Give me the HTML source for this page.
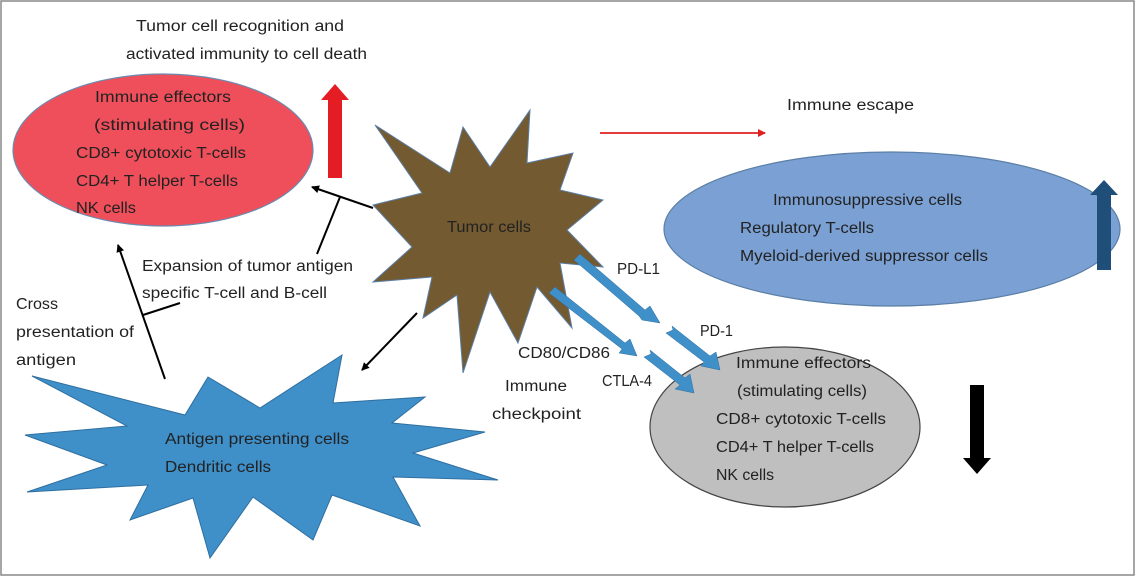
<!DOCTYPE html>
<html><head><meta charset="utf-8"><style>
html,body{margin:0;padding:0;background:#fff;}
svg{display:block;font-family:"Liberation Sans",sans-serif;}
text{font-size:15.5px;fill:#222;}
</style></head><body>
<svg width="1135" height="577" viewBox="0 0 1135 577">
<defs>
<marker id="ah" markerWidth="8" markerHeight="8" refX="7" refY="4" orient="auto" markerUnits="userSpaceOnUse"><path d="M0,0 L8,4 L0,8 z" fill="#000"/></marker>
<marker id="ahr" markerWidth="8" markerHeight="8" refX="7" refY="4" orient="auto" markerUnits="userSpaceOnUse"><path d="M0,0 L8,4 L0,8 z" fill="#e02020"/></marker>
</defs>
<rect x="1" y="1" width="1133" height="574" fill="#fff" stroke="#888" stroke-width="1.5"/>

<text x="136" y="31" textLength="208" lengthAdjust="spacingAndGlyphs">Tumor cell recognition and</text>
<text x="126" y="59" textLength="241" lengthAdjust="spacingAndGlyphs">activated immunity to cell death</text>

<ellipse cx="163" cy="150" rx="150" ry="76" fill="#ef4f5a" stroke="#6a8bb0" stroke-width="1.2"/>
<text x="95" y="102" textLength="136" lengthAdjust="spacingAndGlyphs">Immune effectors</text>
<text x="94" y="130" textLength="151" lengthAdjust="spacingAndGlyphs">(stimulating cells)</text>
<text x="76" y="158" textLength="170" lengthAdjust="spacingAndGlyphs">CD8+ cytotoxic T-cells</text>
<text x="76" y="186" textLength="162" lengthAdjust="spacingAndGlyphs">CD4+ T helper T-cells</text>
<text x="76" y="213" textLength="60" lengthAdjust="spacingAndGlyphs">NK cells</text>

<polygon points="328,178 342,178 342,100 349,100 335,84 321,100 328,100" fill="#e41c23"/>

<polygon points="375,125 450,173 463,127 490,167 530,110 527,163 573,153 560,190 603,200 567,230 603,267 560,263 572,328 537,287 518,343 490,292 463,373 457,295 423,318 432,277 373,282 412,247 373,205 422,193" fill="#735a30" stroke="#5b7fa6" stroke-width="1"/>
<text x="447" y="232" textLength="84" lengthAdjust="spacingAndGlyphs">Tumor cells</text>

<line x1="600" y1="133" x2="765" y2="133" stroke="#e02020" stroke-width="1.8" marker-end="url(#ahr)"/>
<text x="787" y="110" textLength="127" lengthAdjust="spacingAndGlyphs">Immune escape</text>

<ellipse cx="892" cy="229" rx="228" ry="77" fill="#7aa0d4" stroke="#5b7fa6" stroke-width="1.2"/>
<text x="773" y="205" textLength="189" lengthAdjust="spacingAndGlyphs">Immunosuppressive cells</text>
<text x="740" y="233" textLength="134" lengthAdjust="spacingAndGlyphs">Regulatory T-cells</text>
<text x="740" y="261" textLength="248" lengthAdjust="spacingAndGlyphs">Myeloid-derived suppressor cells</text>
<polygon points="1097,270 1111,270 1111,195 1118,195 1104,180 1090,195 1097,195" fill="#1f4e79"/>

<ellipse cx="785" cy="427" rx="135" ry="80" fill="#bfbfbf" stroke="#444" stroke-width="1.2"/>
<text x="736" y="368" textLength="135" lengthAdjust="spacingAndGlyphs">Immune effectors</text>
<text x="737" y="396" textLength="130" lengthAdjust="spacingAndGlyphs">(stimulating cells)</text>
<text x="716" y="424" textLength="170" lengthAdjust="spacingAndGlyphs">CD8+ cytotoxic T-cells</text>
<text x="716" y="452" textLength="158" lengthAdjust="spacingAndGlyphs">CD4+ T helper T-cells</text>
<text x="716" y="480" textLength="58" lengthAdjust="spacingAndGlyphs">NK cells</text>
<polygon points="970,385 984,385 984,458 991,458 977,474 963,458 970,458" fill="#000"/>

<g fill="#3f8fc9" stroke="#2f6f9f" stroke-width="0.5">
<polygon points="574,260 580,254 645,310 650,306 660,323 642,320 639,316"/>
<polygon points="666,333 673,330 672,326 710,356 716,352 720,370 701,366 704,362"/>
<polygon points="549,293 555,287 625,343 630,339 637,356 619,353 622,349"/>
<polygon points="644,357 651,354 650,350 685,378 690,374 694,393 675,389 680,385"/>
</g>
<text x="617" y="274" textLength="43" lengthAdjust="spacingAndGlyphs">PD-L1</text>
<text x="700" y="336" textLength="33" lengthAdjust="spacingAndGlyphs">PD-1</text>
<text x="518" y="358" textLength="92" lengthAdjust="spacingAndGlyphs">CD80/CD86</text>
<text x="602" y="386" textLength="50" lengthAdjust="spacingAndGlyphs">CTLA-4</text>
<text x="505" y="391" textLength="62" lengthAdjust="spacingAndGlyphs">Immune</text>
<text x="492" y="419" textLength="89" lengthAdjust="spacingAndGlyphs">checkpoint</text>

<polygon points="32,376 185,415 208,377 260,408 342,355 333,403 425,397 392,423 485,432 413,453 498,480 393,477 420,526 332,495 313,540 253,497 210,558 193,498 130,520 148,485 27,492 107,465 25,435 127,426" fill="#3f8fc9" stroke="#2f6f9f" stroke-width="1"/>
<text x="165" y="444" textLength="184" lengthAdjust="spacingAndGlyphs">Antigen presenting cells</text>
<text x="165" y="472" textLength="106" lengthAdjust="spacingAndGlyphs">Dendritic cells</text>

<line x1="373" y1="208" x2="312" y2="187" stroke="#000" stroke-width="2" marker-end="url(#ah)"/>
<line x1="317" y1="254" x2="340" y2="197" stroke="#000" stroke-width="2"/>
<text x="142" y="271" textLength="211" lengthAdjust="spacingAndGlyphs">Expansion of tumor antigen</text>
<text x="142" y="298" textLength="185" lengthAdjust="spacingAndGlyphs">specific T-cell and B-cell</text>
<line x1="165" y1="379" x2="118" y2="245" stroke="#000" stroke-width="2" marker-end="url(#ah)"/>
<line x1="143" y1="315" x2="180" y2="303" stroke="#000" stroke-width="2"/>
<text x="16" y="309" textLength="42" lengthAdjust="spacingAndGlyphs">Cross</text>
<text x="16" y="337" textLength="118" lengthAdjust="spacingAndGlyphs">presentation of</text>
<text x="16" y="365" textLength="60" lengthAdjust="spacingAndGlyphs">antigen</text>
<line x1="417" y1="313" x2="362" y2="370" stroke="#000" stroke-width="2" marker-end="url(#ah)"/>
</svg>
</body></html>
